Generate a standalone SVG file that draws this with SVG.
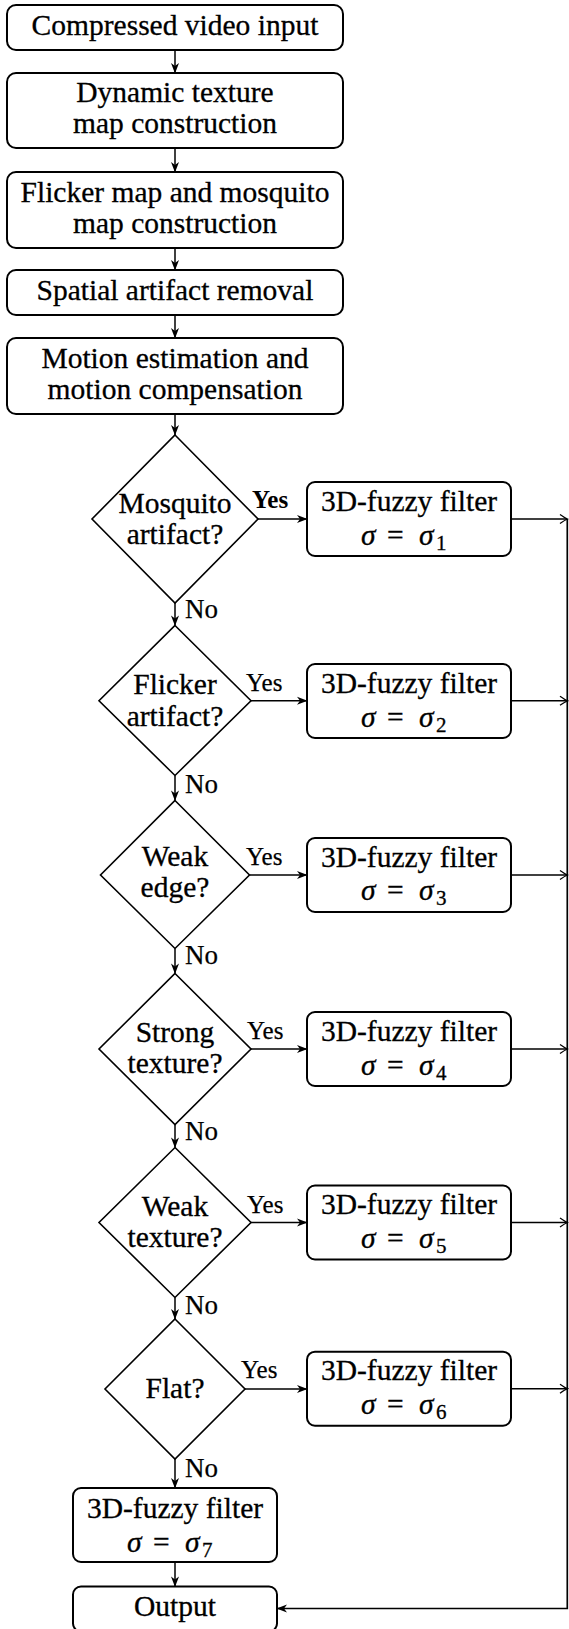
<svg xmlns="http://www.w3.org/2000/svg" width="569" height="1629" viewBox="0 0 569 1629">
<style>
.t{font-family:"Liberation Serif","Times New Roman",serif;font-size:29.5px;fill:#000;stroke:#000;stroke-width:0.3;text-anchor:middle}
.s{font-family:"Liberation Serif","Times New Roman",serif;font-size:29.5px;fill:#000;stroke:#000;stroke-width:0.3;text-anchor:start}
.it{font-style:italic}
.sub{font-size:21px}
.lbl{font-family:"Liberation Serif","Times New Roman",serif;font-size:25px;fill:#000;stroke:#000;stroke-width:0.25;text-anchor:start}
.no{font-size:27px}
.box{fill:#fff;stroke:#000;stroke-width:2}
.dia{fill:#fff;stroke:#000;stroke-width:1.6}
.c{fill:none;stroke:#000;stroke-width:1.5}
.a{marker-end:url(#ah)}
.b{marker-end:url(#to)}
</style>
<defs>
<marker id="ah" viewBox="-12 -6 14 12" refX="0" refY="0" markerWidth="14" markerHeight="12" markerUnits="userSpaceOnUse" orient="auto"><path d="M0.5,0 L-10,-4 L-7,0 L-10,4 z" fill="#000"/></marker>
<marker id="to" viewBox="-9 -6 11 12" refX="0" refY="0" markerWidth="11" markerHeight="12" markerUnits="userSpaceOnUse" orient="auto"><path d="M-7,-4.5 Q-2,-1 0.5,0 Q-2,1 -7,4.5" fill="none" stroke="#000" stroke-width="1.3"/></marker>
</defs>
<rect width="569" height="1629" fill="#fff"/>

<g id="connectors">
<line class="c a" x1="175" y1="50" x2="175" y2="73"/>
<line class="c a" x1="175" y1="148" x2="175" y2="172"/>
<line class="c a" x1="175" y1="248" x2="175" y2="270"/>
<line class="c a" x1="175" y1="315" x2="175" y2="338"/>
<line class="c a" x1="175" y1="414" x2="175" y2="435"/>
<line class="c a" x1="175" y1="603" x2="175" y2="625.5"/>
<line class="c a" x1="175" y1="775.5" x2="175" y2="800.5"/>
<line class="c a" x1="175" y1="948.5" x2="175" y2="973.5"/>
<line class="c a" x1="175" y1="1124.5" x2="175" y2="1147.5"/>
<line class="c a" x1="175" y1="1297.5" x2="175" y2="1319"/>
<line class="c a" x1="175" y1="1459" x2="175" y2="1488"/>
<line class="c a" x1="175" y1="1562" x2="175" y2="1586.5"/>
<line class="c a" x1="258" y1="519" x2="307" y2="519"/>
<line class="c a" x1="251" y1="700.8" x2="307" y2="700.8"/>
<line class="c a" x1="249.5" y1="875" x2="307" y2="875"/>
<line class="c a" x1="251" y1="1049" x2="307" y2="1049"/>
<line class="c a" x1="251" y1="1222.5" x2="307" y2="1222.5"/>
<line class="c a" x1="245" y1="1389" x2="307" y2="1389"/>
<line class="c b" x1="511" y1="519" x2="567" y2="519"/>
<line class="c b" x1="511" y1="700.8" x2="567" y2="700.8"/>
<line class="c b" x1="511" y1="875" x2="567" y2="875"/>
<line class="c b" x1="511" y1="1049" x2="567" y2="1049"/>
<line class="c b" x1="511" y1="1222.5" x2="567" y2="1222.5"/>
<line class="c b" x1="511" y1="1388.7" x2="567" y2="1388.7"/>
<polyline class="c a" points="567.3,519 567.3,1608.5 277,1608.5" style="stroke-width:1.7"/>
<text class="lbl" x="252" y="508" font-weight="bold" style="stroke-width:0">Yes</text>
<text class="lbl" x="246" y="691">Yes</text>
<text class="lbl" x="246" y="865">Yes</text>
<text class="lbl" x="247" y="1039">Yes</text>
<text class="lbl" x="247" y="1212.5">Yes</text>
<text class="lbl" x="241" y="1378">Yes</text>
<text class="lbl no" x="185" y="618">No</text>
<text class="lbl no" x="185" y="793">No</text>
<text class="lbl no" x="185" y="964">No</text>
<text class="lbl no" x="185" y="1139.5">No</text>
<text class="lbl no" x="185" y="1313.5">No</text>
<text class="lbl no" x="185" y="1477">No</text>
</g>

<g id="input">
<rect class="box" x="7" y="5" width="336" height="45" rx="9"/>
<text class="t" x="175" y="34.5">Compressed video input</text>
</g>
<g id="dyntex">
<rect class="box" x="7" y="73" width="336" height="75" rx="9"/>
<text class="t" x="175" y="102">Dynamic texture</text>
<text class="t" x="175" y="133">map construction</text>
</g>
<g id="flickermap">
<rect class="box" x="7" y="172" width="336" height="76" rx="9"/>
<text class="t" x="175" y="201.5">Flicker map and mosquito</text>
<text class="t" x="175" y="232.5">map construction</text>
</g>
<g id="spatial">
<rect class="box" x="7" y="270" width="336" height="45" rx="9"/>
<text class="t" x="175" y="299.5">Spatial artifact removal</text>
</g>
<g id="motion">
<rect class="box" x="7" y="338" width="336" height="76" rx="9"/>
<text class="t" x="175" y="367.5">Motion estimation and</text>
<text class="t" x="175" y="398.5">motion compensation</text>
</g>

<g id="d1">
<polygon class="dia" points="175,435 258,519 175,603 92,519"/>
<text class="t" x="175" y="512.5">Mosquito</text>
<text class="t" x="175" y="544">artifact?</text>
</g>
<g id="d2">
<polygon class="dia" points="175,625.5 251,700.8 175,775.5 99,700.8"/>
<text class="t" x="175" y="694">Flicker</text>
<text class="t" x="175" y="726">artifact?</text>
</g>
<g id="d3">
<polygon class="dia" points="175,800.5 249.5,875 175,948.5 100.5,875"/>
<text class="t" x="175" y="865.5">Weak</text>
<text class="t" x="175" y="897">edge?</text>
</g>
<g id="d4">
<polygon class="dia" points="175,973.5 251,1049 175,1124.5 99,1049"/>
<text class="t" x="175" y="1042">Strong</text>
<text class="t" x="175" y="1073">texture?</text>
</g>
<g id="d5">
<polygon class="dia" points="175,1147.5 251,1222.5 175,1297.5 99,1222.5"/>
<text class="t" x="175" y="1216">Weak</text>
<text class="t" x="175" y="1247">texture?</text>
</g>
<g id="d6">
<polygon class="dia" points="175,1319 245,1389 175,1459 105,1389"/>
<text class="t" x="175" y="1398">Flat?</text>
</g>

<g id="f1">
<rect class="box" x="307" y="482" width="204" height="74" rx="8"/>
<text class="t" x="409" y="510.5">3D-fuzzy filter</text>
<text class="s" y="544.5"><tspan class="it" x="361">σ</tspan><tspan x="387">=</tspan><tspan class="it" x="419">σ</tspan><tspan class="sub" x="436" dy="5">1</tspan></text>
</g>
<g id="f2">
<rect class="box" x="307" y="664" width="204" height="74" rx="8"/>
<text class="t" x="409" y="692.5">3D-fuzzy filter</text>
<text class="s" y="726.5"><tspan class="it" x="361">σ</tspan><tspan x="387">=</tspan><tspan class="it" x="419">σ</tspan><tspan class="sub" x="436" dy="5">2</tspan></text>
</g>
<g id="f3">
<rect class="box" x="307" y="838" width="204" height="74" rx="8"/>
<text class="t" x="409" y="866.5">3D-fuzzy filter</text>
<text class="s" y="900"><tspan class="it" x="361">σ</tspan><tspan x="387">=</tspan><tspan class="it" x="419">σ</tspan><tspan class="sub" x="436" dy="5">3</tspan></text>
</g>
<g id="f4">
<rect class="box" x="307" y="1012" width="204" height="74" rx="8"/>
<text class="t" x="409" y="1040.5">3D-fuzzy filter</text>
<text class="s" y="1074.5"><tspan class="it" x="361">σ</tspan><tspan x="387">=</tspan><tspan class="it" x="419">σ</tspan><tspan class="sub" x="436" dy="5">4</tspan></text>
</g>
<g id="f5">
<rect class="box" x="307" y="1185.5" width="204" height="74" rx="8"/>
<text class="t" x="409" y="1214">3D-fuzzy filter</text>
<text class="s" y="1248"><tspan class="it" x="361">σ</tspan><tspan x="387">=</tspan><tspan class="it" x="419">σ</tspan><tspan class="sub" x="436" dy="5">5</tspan></text>
</g>
<g id="f6">
<rect class="box" x="307" y="1351.7" width="204" height="74" rx="8"/>
<text class="t" x="409" y="1380">3D-fuzzy filter</text>
<text class="s" y="1414"><tspan class="it" x="361">σ</tspan><tspan x="387">=</tspan><tspan class="it" x="419">σ</tspan><tspan class="sub" x="436" dy="5">6</tspan></text>
</g>
<g id="f7">
<rect class="box" x="73" y="1488" width="204" height="74" rx="8"/>
<text class="t" x="175" y="1517.5">3D-fuzzy filter</text>
<text class="s" y="1551.5"><tspan class="it" x="127">σ</tspan><tspan x="153">=</tspan><tspan class="it" x="185">σ</tspan><tspan class="sub" x="202" dy="5">7</tspan></text>
</g>
<g id="output">
<rect class="box" x="73" y="1586.5" width="204" height="45" rx="8"/>
<text class="t" x="175" y="1616">Output</text>
</g>
</svg>
